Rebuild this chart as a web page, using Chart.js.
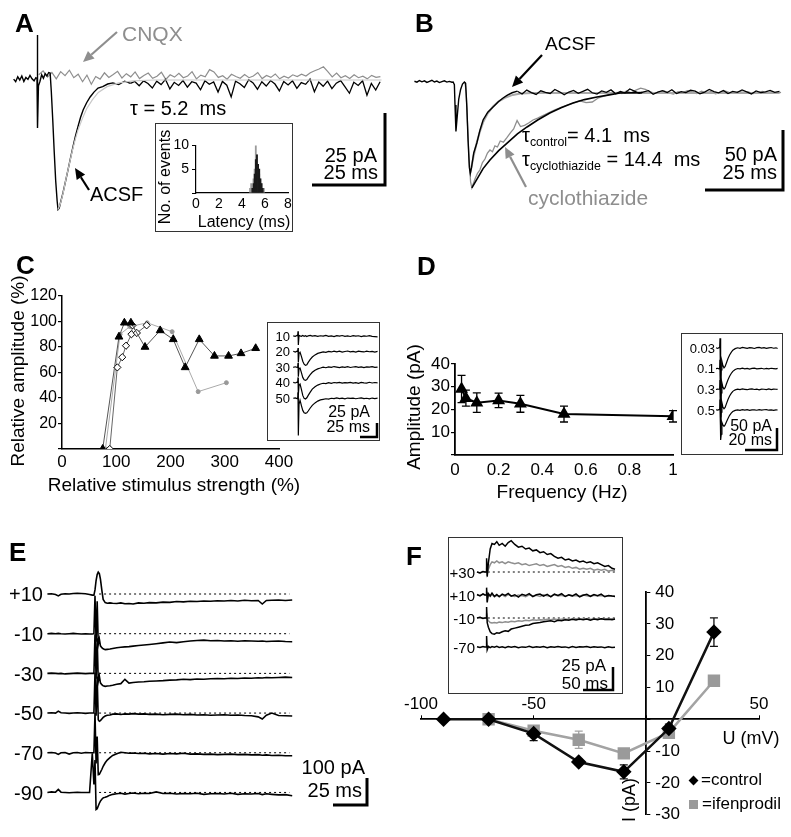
<!DOCTYPE html>
<html>
<head>
<meta charset="utf-8">
<script src="https://cdn.jsdelivr.net/npm/chart.js@4.4.1/dist/chart.umd.min.js"></script>
<style>
  body { margin:0; width:791px; height:837px; position:relative; overflow:hidden; background:#fff;
         font-family:"Liberation Sans", Arial, Helvetica, sans-serif; color:#000; }
  canvas { position:absolute; }
  .t { position:absolute; line-height:1; white-space:pre; }
  .box { position:absolute; border:1.3px solid #333; box-sizing:border-box; }
  svg { position:absolute; left:0; top:0; }
  sub { font-size:0.62em; vertical-align:-0.35em; line-height:0; }
</style>
</head>
<body>
<script>
// ---------- A: evoked EPSC (ms, pA) ----------
const aAcsfT = [-8, -7.3, -6.6, -5.9, -5.2, -4.5, -3.8, -3.1, -2.4, -1.7, -1.0, -0.4, 0, 0.1, 0.25, 0.5, 1.0, 1.6, 2.2, 2.8,
  3.4, 4.0, 4.5, 4.9, 5.4, 5.9, 6.4, 6.9, 7.2, 7.6, 8.2, 8.9, 9.7, 10.6, 11.4, 12.3, 13.1, 14.0, 14.9, 15.8,
  17.0, 18.2, 19.5, 20.9, 22.5, 24.2, 26.0, 28, 30, 32];
const aAcsfI = [0.3, -0.6, 1.1, 0.0, 1.4, -0.5, 0.9, 0.2, 1.6, 0.4, -0.3, 0.8, 0.5, 15.6, -16.7, -2, -0.5, 1.8, 0.6, 2.2,
  1.4, 2.6, 2.4, -4, -14, -25, -35, -42, -45, -44.5, -42, -39.2, -35.5, -31.3, -27.5, -23.3, -19.8, -16.3, -13.0, -10.4,
  -7.9, -5.9, -4.2, -2.8, -2.3, -1.4, -1.0, -1.6, -0.4, -1.2];
// baseline after the EPSC, sampled every 1.5 ms from 32 ms
const aAcsfTail = [-1.2, -0.5, -2.0, -0.3, -1.2, -2.8, -0.4, -1.6, 0.2, -3.1, -0.8, -1.9, -0.2, -2.5, -0.6, -1.1, -3.4, -0.3, -1.5, -0.7,
  -4.2, -0.5, -1.8, -5.9, -0.4, -1.3, -2.6, 0.1, -1.0, -3.2, -0.6, -2.1, -0.2, -1.4, -3.8, -0.5, -1.7, -0.3, -2.9, -0.9,
  -1.5, 0.3, -4.1, -0.7, -2.2, -0.4, -3.0, -1.1, -0.2, -2.4, -4.6, -0.8, -1.9, -0.3, -5.3, -1.2, -3.5, -0.6];
// CNQX, sampled every 1.5 ms from 0.6 ms
const aCnqx = [1.8, 3.2, 1.0, 2.6, 0.4, 2.9, 1.5, 3.4, 0.8, 2.0, -0.6, 1.7, -1.5, 1.2, 0.3, 2.5, 0.9, 1.9, 3.0, 0.7,
  2.2, 1.1, 2.8, 0.5, 1.6, 2.4, 0.6, 1.3, 2.7, 0.2, 1.8, 1.0, 2.3, 0.8, 1.4, 2.9, 0.4, 1.7, 1.1, 3.6,
  2.8, 0.9, 1.5, 0.3, 2.0, 1.2, 0.6, 1.9, 0.8, 1.4, 2.6, 0.5, 1.6, 0.9, 2.1, 0.4, 1.3, 0.7, 1.8, 1.2,
  2.0, 1.4, 2.5, 3.2, 3.8, 4.6, 2.9, 1.1, 2.4, 0.8, 1.5, 0.5, 1.8, 0.8, 1.3, 0.4, 1.6, 0.9, 1.2];
const aFitT = [7.2, 8, 9, 10, 11, 12, 13, 14, 15.5, 17, 19, 21, 24, 28, 33, 40, 118];
const aFitI = [-45, -43, -39, -34, -29.5, -25, -21, -17.5, -13.5, -10, -6.8, -4.3, -2.3, -1, -0.3, 0, 0];
// latency histogram
const aLatBins = [4.7, 4.8, 4.9, 5.0, 5.1, 5.2, 5.3, 5.4, 5.5, 5.6, 5.7, 5.8, 5.9];
const aLatGray = [1, 2, 1, 3, 5, 10, 8, 6, 4, 3, 2, 1, 1];
const aLatBlack = [0, 0, 1, 2, 4, 7, 8, 6, 5, 3, 2, 1, 0];
const aLatYTicks = [0, 5, 10];

// ---------- B: cyclothiazide ----------
const bAcsfT = [-13, -12.2, -11.4, -10.6, -9.8, -9.0, -8.2, -7.4, -6.6, -5.8, -5.0, -4.2, -3.4, -2.6, -1.8, -1.0,
  -0.6, -0.2, 0, 0.3, 0.7, 1.2, 1.8, 2.4, 3.0, 3.4, 3.8, 4.2, 4.6, 4.9, 5.3, 6.0, 7.0, 8.0, 9.0, 10.5, 12.2, 13.8, 15.4, 16.8, 18.3, 20];
const bAcsfI = [9.8, 9.0, 10.4, 9.3, 10.1, 8.8, 9.6, 10.6, 9.2, 9.9, 8.7, 9.5, 10.2, 9.1, 9.7, 9.0,
  9.2, 7, -10, -32, -20, -5, 3, 7.5, 9.2, 8, -12, -40, -62, -67, -62, -50, -41.7, -31, -22.5, -16, -11.7, -7.5, -4.2, -1.8, 0.2, 1.5];
// every 1.5 ms from 20 ms
const bAcsfTail = [1.5, -0.8, 2.4, 0.3, -1.2, 1.8, 0.6, -0.4, 2.9, 1.0, -1.5, 0.8, 2.2, -0.3, 1.4, 3.1, 0.2, -0.9, 1.7, 0.5,
  2.6, -0.6, 1.2, 0.1, 3.4, 1.6, -0.2, 0.9, 2.0, -1.1, 0.7, 1.9, 0.4, 2.7, -0.5, 1.1, 0.3, 2.3, 1.5, -0.7,
  0.8, 3.0, 1.2, 0.2, 2.1, -0.4, 1.3, 0.6, 2.5, 0.9, -0.8, 1.7, 0.4, 1.0, 2.2, 0.5, 1.4];
const bCycloT = [3.2, 3.6, 4.0, 4.5, 5.0, 5.4, 5.8, 6.5, 7.2, 8.0, 8.8, 9.6, 10.4, 11.2, 12.0, 12.8, 13.6, 14.5, 15.5, 16.7,
  17.8, 18.8, 19.9, 21, 22.3, 23.6, 25, 26.5, 28, 30, 32, 34, 36, 38, 40, 42, 44, 46, 48, 50, 52];
const bCycloI = [9, 0, -25, -55, -74, -79, -76, -71, -67, -64, -58, -55, -50, -47.5, -49, -44, -45, -40, -41, -37,
  -33, -30, -23, -28, -27, -25, -22.5, -21, -19, -16.5, -14, -12, -10, -8.5, -6.5, -8, -7.5, -4, -2.5, -1, 0.5];
// every 1.5 ms from 52 ms
const bCycloTail = [0.5, -0.5, 1.6, 0.2, 2.4, 4.0, 3.1, 1.2, -0.3, 0.9, 1.8, 0.1, -0.8, 1.1, 0.4, 2.0, 0.7, -0.4, 1.5, 0.2,
  1.0, -0.6, 0.6, 1.7, 0.3, -0.2, 1.2, 0.5, 0.9, -0.5, 0.4, 1.3, 0.0, 0.8, -0.3, 0.6];
const bFitCycloT = [5.4, 7, 9, 11.2, 14, 16.7, 20, 23.1, 26.5, 30.4, 34, 37.8, 41.5, 45.5, 49, 52.9, 60];
const bFitCycloI = [-79, -72, -63, -55.8, -48, -41.7, -34, -28.3, -22.5, -16.7, -12.3, -8.3, -5.5, -3.3, -1.8, 0, 0.3];
const bFitAcsfT = [4.9, 6, 7, 8, 9, 10.5, 12.2, 14, 16, 18.5, 21, 25, 104];
const bFitAcsfI = [-67, -52, -41, -32, -24.5, -17, -11.2, -7, -4, -1.6, -0.5, 0, 0];

// ---------- C: input-output ----------
const cStimTri = [75, 105, 115, 127, 153, 181, 205, 227, 253, 281, 307, 330, 357];
const cAmpTri = [0, 88, 99, 99, 80, 93, 86, 64, 86, 73, 73, 75, 79];
const cStimDia = [88, 102, 111, 118, 128, 130, 138, 156];
const cAmpDia = [0, 64, 72, 81, 90, 97, 91, 97];
const cStimDot = [80, 107, 125, 157, 203, 251, 303];
const cAmpDot = [0, 90, 96, 99, 92, 45, 52];
const cInsetT = [-7, -4, -1.5, -0.5, 0, 0.5, 1.5, 3, 5, 7, 9, 11, 13, 15, 18, 21, 25, 29, 33, 37,
  41, 45, 49, 53, 57, 61, 65, 69, 73, 77, 81, 85, 89, 93, 97, 101, 105, 109, 113, 117];
const c10 = [0.3, -0.5, 0.8, 0.2, 8, -15, 1.0, 0.2, -0.6, 0.8, -0.4, 0.5, -0.9, 0.3, 1.1, -0.2, 0.6, -0.7, 0.4, -0.3,
  0.9, -0.6, 0.2, -1.0, 0.5, -0.2, 0.8, -0.5, 0.1, -0.8, 0.6, -0.3, 0.4, -0.9, 0.2, -0.4, 0.7, -0.6, -1.1, -1.5];
const c20 = [0.5, -0.8, 0.6, 0, 6, -18, -3, -1, -8, -16, -21, -23, -22, -18, -13, -9, -5.5, -3, -1.8, -0.5,
  -1.2, 0.4, -0.6, 0.8, -0.3, 0.6, -0.9, 0.2, 1.0, -0.4, 0.5, -0.7, 0.9, 0.1, -0.6, 0.7, -0.2, 0.4, -0.8, 0.3];
const c30 = [-0.4, 0.7, -0.2, 0.3, 7, -16, -2, -1.5, -9, -17, -21, -22, -20.5, -17, -12.5, -8.5, -5, -2.8, -1.4, 0.2,
  -0.9, 0.6, -0.4, 1.1, 0.2, -0.7, 0.5, -0.2, 0.9, -0.5, 0.3, 1.0, -0.3, 0.6, -0.8, 0.4, 0.1, 0.8, -0.4, 0.2];
const c40 = [0.6, -0.3, 0.9, 0.4, 9, -20, -4, -2, -11, -21, -26, -27, -25, -21, -15.5, -10.5, -6.5, -3.8, -2, -0.8,
  -1.4, 0.3, -0.9, 0.5, -0.2, 0.7, -0.6, 0.4, -0.1, 0.8, -0.5, 0.2, -0.9, 0.6, 0.0, -0.4, 0.9, -0.3, 0.5, -0.2];
const c50 = [0.2, 0.8, -0.4, 0.5, 10, -62, -10, -3, -12, -20, -24, -25, -24, -21, -16, -11.5, -7.5, -4.5, -2.5, -1.5,
  -0.6, -1.2, 0.2, -0.5, 0.8, -0.3, 0.4, -0.8, 0.6, -0.1, 0.5, -0.6, 0.3, 0.9, -0.4, 0.2, -0.7, 0.6, -0.2, 0.4];
const cInsetLabels = ['10', '20', '30', '40', '50'];

// ---------- D: frequency dependence ----------
const dFreq = [0.03, 0.05, 0.1, 0.2, 0.3, 0.5, 1];
const dAmp = [29, 25, 23, 24, 22.5, 18, 17];
const dErr = [6, 3.5, 4.3, 3.2, 3.7, 3.5, 2.5];
const dInsetT = [-2.5, -1.5, -0.6, -0.2, 0, 0.4, 0.8, 1.2, 1.8, 2.5, 3.2, 4, 5, 6, 7, 8, 9.5, 11, 12.5, 14,
  15.5, 17, 18.5, 20, 21.5, 23, 24.5, 26, 27.5, 29, 30.5, 32, 33.5, 35, 36];
const d003 = [0.5, -1, 0.8, 2, 22, -110, -50, -30, -40, -45, -42, -34, -24, -16, -10, -5, -1.5, 0.5, -0.8, 1.2,
  0.4, -0.6, 1.0, 0.2, -1.1, 0.7, 1.3, -0.2, 0.6, -0.9, 0.3, 1.1, -0.5, 0.4, -1.2];
const d01 = [0.3, 0.9, -0.5, 1, 20, -110, -55, -32, -42, -46, -43, -35, -25, -17, -11, -6, -2, 0.4, -0.6, 1.0,
  -0.3, 0.8, -0.9, 0.5, 1.2, -0.4, 0.3, 0.9, -0.7, 0.6, -0.2, 1.0, 0.2, -0.5, 0.8];
const d03 = [-0.4, 0.6, 0.2, 1.5, 21, -90, -52, -30, -40, -44, -41, -33, -23, -15, -9, -4.5, -1, 0.6, -0.5, 0.9,
  0.1, -0.8, 0.6, 1.1, -0.3, 0.4, -0.9, 0.7, 0.2, -0.4, 1.0, -0.6, 0.5, 0.3, -0.2];
const d05 = [0.6, -0.3, 0.9, 1.8, 24, -68, -55, -28, -34, -37, -34, -27, -19, -12, -7, -3.5, -0.8, 0.5, -0.6, 1.1,
  -0.2, 0.7, -0.9, 0.4, 0.2, -0.5, 0.9, -0.3, 0.6, 1.0, -0.4, 0.3, -0.7, 0.5, 0.1];
const dInsetLabels = ['0.03', '0.1', '0.3', '0.5'];

// ---------- E: holding potential series ----------
const eT = [-35, -32, -29, -27, -25, -22, -19, -16, -13, -10, -7, -4, -2, -0.8, 0, 0.8, 1.6, 2.4, 3.2, 4,
  5, 6, 7.5, 9, 11, 13, 16, 19, 22, 25, 28, 32, 36, 40, 45, 50, 55, 60, 65, 70,
  75, 80, 85, 90, 95, 100, 105, 110, 115, 120, 123, 126, 130, 135, 140, 145];
const eP10 = [0, 1, -2, -7, -1, 1, 0, 2, 3, 2, 1, -2, -4, -4, 15, 50, 72, 81, 76, 55,
  15, -20, -32, -34, -33, -34, -35, -33, -36, -35, -37, -33, -34, -32, -33, -30, -31, -28, -29, -27,
  -28, -26, -27, -25, -26, -24, -26, -23, -25, -24, -37, -24, -23, -22, -24, -22];
const eM10 = [0, 1, 0, 1, 0, -1, 0, 1, 0, -1, 0, -1, -1, 0, 140, -30, 120, -40, -20, -45,
  -52, -56, -59, -58, -57, -55, -52, -50, -49, -48, -46, -44, -42, -40, -37, -34, -31, -33, -30, -27,
  -25, -24, -26, -25, -27, -26, -28, -26, -27, -28, -27, -29, -28, -27, -29, -30];
const eM30 = [0, 1, 0, -1, 0, -2, -1, 0, 1, 0, -1, 0, 0, 0, 145, -20, 130, -30, -10, -35,
  -42, -46, -48, -47, -46, -44, -40, -38, -22, -36, -34, -32, -31, -29, -28, -27, -25, -24, -22, -23,
  -21, -22, -20, -19, -20, -18, -19, -17, -18, -16, -17, -15, -16, -15, -14, -15];
const eM50 = [0, 1, 0, 7, 1, 0, -1, 0, 1, 0, -1, 0, 0, 0, 150, -10, 135, -25, -30, -28,
  -22, -16, -11, -8, -7, -4, -3, -5, -3, -4, -2, -4, -3, -5, -4, -6, -5, -4, -6, -5,
  -7, -6, -8, -7, -6, -8, -7, -9, -10, -14, -22, -8, 0, -9, -10, -11];
const eM70 = [0, 1, -1, -6, 0, 1, -5, 0, 1, -2, 1, 0, 0, 0, 148, -40, 60, -81, -80, -72,
  -62, -50, -37, -27, -18, -10, -4, 2, 0, -2, -1, -3, -2, -4, -3, -5, -3, -4, -2, -5,
  -4, -6, -5, -7, -6, -5, -7, -6, -8, -7, -9, -8, -10, -9, -11, -11];
const eM90 = [0, 2, 1, 11, 1, 0, -1, 0, 1, 0, 0, 0, 145, 30, 120, -63, -60, -50, -40, -32,
  -25, -20, -18, -15, -10, -7, -5, -3, -6, -4, -2, -5, -3, -4, 2, -4, -3, -6, -4, -5,
  -3, -7, -5, -4, -6, -3, -7, -5, -6, -4, -8, -5, -7, -9, -8, -12];
const eDotT = [3, 143];
const eDot = [0, 0];
const eLabels = ['+10', '-10', '-30', '-50', '-70', '-90'];

// ---------- F: I-V relation ----------
const fVolt = [-90, -70, -50, -30, -10, 10, 30];
const fControl = [0, 0, -4.5, -13.4, -16.5, -2.9, 27.4];
const fControlErr = [null, null, 2.2, 0.8, 2.2, 1.4, 4.5];
const fIfenVolt = [-70, -50, -30, -10, 10, 30];
const fIfen = [0, -3.6, -6.4, -10.7, -4.2, 12.1];
const fIfenErr = [null, 1.6, 2.7, 1.0, 1.5, null];
const fInsetT = [-15, -10, -5, -2, 0, 1, 2, 4, 7, 10, 14, 18, 22, 27, 32, 37, 42, 48, 54, 60,
  66, 72, 78, 84, 90, 96, 102, 108, 114, 120, 126, 132, 138, 144, 150, 156, 162, 168, 174, 180,
  186, 192, 198, 204, 210, 215];
const f30Black = [0, -1, 0.5, 0, 0, 15, -5, 10, 25, 31, 30, 33, 29, 31, 28, 32, 34, 30, 27, 28,
  25, 26, 23, 24, 21, 22, 19, 20, 17, 15, 16, 13, 14, 12, 13, 11, 12, 10, 11, 9, 10, 8, 6, 7, 4, 3];
const f30Gray = [0, -1, 0.5, 0, 0, 5, -2, 3, 8, 11, 10, 12, 10, 11, 9, 11, 10, 9, 10, 8,
  9, 7, 8, 9, 7, 8, 6, 7, 8, 6, 7, 5, 6, 4, 5, 3, 4, 3, 4, 2, 3, 2, 3, 1, 2, 1];
const f10Black = [0.5, -1, 1.2, 0, 0, 8, -8, 1.5, -1, 2, -1.5, 0.5, -2, 1, -0.5, 1.8, -1.2, 0.3, -2.2, 0.8,
  -0.6, 1.5, -1.8, 0.2, 1.1, -1.3, 0.6, -2, 0.9, -0.4, 1.4, -1.6, 0.1, -0.9, 1.2, -2.1, -0.3, 0.7, -1.4, 0.4,
  -0.8, 1.0, -1.9, -0.5, -1.2, -1.5];
const f10Gray = [0, -0.5, 0.8, 0.3, 0, 4, -4, 0, -1.5, 0.5, -2, -0.5, -1.2, 0.2, -1.8, 0.6, -0.9, -1.5, 0.1, -0.7,
  -1.9, 0.3, -1.1, -0.4, -1.6, 0.2, -0.8, -1.3, 0.5, -1.0, -0.2, -1.7, 0.0, -1.2, -0.6, -1.4, 0.1, -0.9, -1.6, -0.3,
  -1.1, -0.5, -1.3, -0.8, -1.0, -1.2];
const fm10Black = [0, 0.8, -0.5, 0, 0, 12, -5, -10, -15, -17, -17.5, -16, -16.5, -15, -14, -14.5, -12, -11, -10, -9,
  -8, -7.5, -6, -5.5, -5, -4, -3.5, -3, -4, -2.5, -3, -2, -2.5, -1.5, -2.2, -1.0, -2.0, -1.2, -2.4, -1.1,
  -1.8, -0.9, -1.6, -1.3, -1.9, -1.0];
const fm10Gray = [0, 0.5, -0.3, 0, 0, 5, -1, -3, -5, -5.5, -5, -5.5, -4.5, -5, -4, -4.5, -3.5, -4, -3, -3.5,
  -2.5, -3, -2, -2.5, -1.8, -2.2, -1.5, -2, -1.2, -1.8, -1.4, -1.0, -1.6, -1.2, -0.9, -1.5, -1.1, -0.8, -1.3, -1.0,
  -0.7, -1.2, -0.9, -1.1, -0.8, -1.0];
const fm70 = [0.3, -0.6, 0.5, 0, 0, 12, -3, 0.5, -0.8, 0.4, -0.3, 0.7, -0.5, 0.2, -0.9, 0.4, -0.2, 0.6, -0.7, 0.1,
  -0.4, 0.8, -0.6, 0.3, -0.2, 0.5, -0.8, 0.2, -0.4, 0.6, -0.3, 0.1, -0.7, 0.4, -0.5, 0.2, -0.1, 0.6, -0.6, 0.3,
  -0.4, 0.1, -0.8, 0.2, -0.5, -0.3];
const fDotT = [3, 215];
const fDot = [0, 0];
const fInsetLabels = ['+30', '+10', '-10', '-70'];

// ---------- helpers ----------
const FONT = '"Liberation Sans", Arial, Helvetica, sans-serif';
Chart.defaults.font.family = FONT;
Chart.defaults.color = '#000';
Chart.defaults.animation = false;
Chart.defaults.responsive = false;
Chart.defaults.plugins.legend.display = false;
Chart.defaults.plugins.tooltip.enabled = false;

function addCanvas(left, top, width, height) {
  const c = document.createElement('canvas');
  c.width = width; c.height = height;
  c.style.left = left + 'px'; c.style.top = top + 'px';
  document.body.appendChild(c);
  return c;
}
function xy(xs, ys, shift) {
  const out = [];
  xs.forEach((x, i) => { if (ys[i] != null) out.push({x: x, y: ys[i] + (shift || 0)}); });
  return out;
}
function even(start, step, n) { return Array.from({length: n}, (_, i) => start + i * step); }
function line(data, color, width, extra) {
  return Object.assign({data: data, borderColor: color, borderWidth: width, pointRadius: 0, tension: 0, fill: false}, extra || {});
}
// frame: page pixel of the data origin and pixels per unit
function traceChart(box, frame, datasets) {
  const c = addCanvas(box.left, box.top, box.width, box.height);
  new Chart(c, {
    type: 'line',
    data: {datasets: datasets},
    options: {
      devicePixelRatio: 1,
      layout: {padding: 0},
      scales: {
        x: {type: 'linear', display: false,
            min: (box.left - frame.x0) / frame.px, max: (box.left + box.width - frame.x0) / frame.px},
        y: {type: 'linear', display: false,
            min: (frame.y0 - box.top - box.height) / frame.py, max: (frame.y0 - box.top) / frame.py}
      }
    }
  });
}
const errorBars = {
  id: 'errorBars',
  beforeDatasetsDraw(chart) {
    const ctx = chart.ctx, ys = chart.scales.y;
    chart.data.datasets.forEach((ds, i) => {
      if (!ds.errors) return;
      const pts = chart.getDatasetMeta(i).data;
      ctx.save();
      ctx.strokeStyle = ds.errorColor || ds.borderColor;
      ctx.lineWidth = 1.3;
      pts.forEach((p, j) => {
        const e = ds.errors[j];
        if (e == null) return;
        const v = ds.data[j].y;
        const hi = ys.getPixelForValue(v + e), lo = ys.getPixelForValue(v - e);
        ctx.beginPath();
        ctx.moveTo(p.x, hi); ctx.lineTo(p.x, lo);
        ctx.moveTo(p.x - 4, hi); ctx.lineTo(p.x + 4, hi);
        ctx.moveTo(p.x - 4, lo); ctx.lineTo(p.x + 4, lo);
        ctx.stroke();
      });
      ctx.restore();
    });
  }
};
// move the axes of F so they cross at the origin
const crossAxes = {
  id: 'crossAxes',
  afterLayout(chart) {
    const xs = chart.scales.x, ys = chart.scales.y;
    const x0 = xs.getPixelForValue(0), y0 = ys.getPixelForValue(0);
    ys.left = x0; ys.right = x0 + 50;
    xs.bottom = y0; xs.top = y0 - 40;
  }
};
const GRAY = '#8e8e8e';
const oneDecimal = v => String(Math.round(v * 10) / 10);

// ---------- A traces ----------
traceChart({left: 12, top: 25, width: 373, height: 200}, {x0: 37, y0: 80, px: 2.92, py: 2.88}, [
  line(xy(aFitT, aFitI), '#c8c8c8', 1.2),
  line(xy(aAcsfT, aAcsfI), '#000', 1.4),
  line(xy(even(32, 1.5, aAcsfTail.length), aAcsfTail), '#000', 1.3),
  line(xy(even(0.6, 1.5, aCnqx.length), aCnqx), GRAY, 1.2)
]);

// A inset histogram
new Chart(addCanvas(150, 134, 145, 85), {
  type: 'bar',
  data: {datasets: [
    {data: xy(aLatBins, aLatBlack), backgroundColor: '#1a1a1a', barPercentage: 1, categoryPercentage: 1, grouped: false},
    {data: xy(aLatBins, aLatGray), backgroundColor: '#9a9a9a', barPercentage: 1, categoryPercentage: 1, grouped: false}
  ]},
  options: {
    devicePixelRatio: 1,
    layout: {padding: {left: 0, top: 10, right: 7, bottom: 4}},
    scales: {
      x: {type: 'linear', min: 0, max: 8, offset: false, afterFit: s => { s.height = 22; },
          ticks: {stepSize: 2, padding: 3, autoSkip: false, maxRotation: 0, font: {size: 14}},
          grid: {display: false, drawTicks: false}, border: {color: '#000', width: 1.2}},
      y: {min: 0, max: 10, afterFit: s => { s.width = 46; },
          afterBuildTicks: s => { s.ticks = aLatYTicks.map(v => ({value: v})); },
          ticks: {padding: 3, autoSkip: false, font: {size: 14}, callback: v => v === 0 ? '' : v},
          grid: {drawOnChartArea: false, color: '#000', tickLength: 4}, border: {color: '#000', width: 1.2}}
    }
  }
});

// ---------- B traces ----------
traceChart({left: 412, top: 30, width: 373, height: 175}, {x0: 455, y0: 93, px: 3.12, py: 1.2}, [
  line(xy(bFitCycloT, bFitCycloI), '#000', 1.6),
  line(xy(bAcsfT, bAcsfI), '#000', 1.4),
  line(xy(even(20, 1.5, bAcsfTail.length), bAcsfTail), '#000', 1.3),
  line(xy(bFitAcsfT, bFitAcsfI), '#a8a8a8', 2),
  line(xy(bCycloT, bCycloI), GRAY, 1.3),
  line(xy(even(52, 1.5, bCycloTail.length), bCycloTail), GRAY, 1.3)
]);

// ---------- C ----------
new Chart(addCanvas(0, 284, 310, 200), {
  type: 'line',
  data: {datasets: [
    {data: xy(cStimTri, cAmpTri), borderColor: '#555', borderWidth: 1, tension: 0, pointStyle: 'triangle',
     pointRadius: 4.5, pointBackgroundColor: '#000', pointBorderColor: '#000'},
    {data: xy(cStimDia, cAmpDia), borderColor: '#666', borderWidth: 1, tension: 0, pointStyle: 'rectRot',
     pointRadius: 3.6, pointBackgroundColor: '#fff', pointBorderColor: '#000', pointBorderWidth: 1},
    {data: xy(cStimDot, cAmpDot), borderColor: '#aaa', borderWidth: 1, tension: 0, pointStyle: 'circle',
     pointRadius: 2, pointBackgroundColor: '#999', pointBorderColor: '#999'}
  ]},
  options: {
    devicePixelRatio: 1,
    layout: {padding: {left: 18, top: 12, right: 31, bottom: 5}},
    scales: {
      x: {type: 'linear', min: 0, max: 400, afterFit: s => { s.height = 30; },
          ticks: {stepSize: 100, padding: 3, autoSkip: false, maxRotation: 0, font: {size: 17}},
          grid: {display: false, drawTicks: false}, border: {color: '#000', width: 1.5}},
      y: {min: 0, max: 120, afterFit: s => { s.width = 44; },
          ticks: {stepSize: 20, padding: 1, autoSkip: false, font: {size: 16}, callback: v => v === 0 ? '' : v},
          grid: {drawOnChartArea: false, color: '#000', tickLength: 4, lineWidth: 1.2}, border: {color: '#000', width: 1.5}}
    }
  }
});
// C inset traces
const cGap = 26;
traceChart({left: 291, top: 324, width: 88, height: 115}, {x0: 298, y0: 336, px: 0.68, py: 0.6},
  [c10, c20, c30, c40, c50].map((v, i) => line(xy(cInsetT, v, -i * cGap), '#000', 1.2)));

// ---------- D ----------
new Chart(addCanvas(400, 350, 290, 135), {
  type: 'line',
  data: {datasets: [
    {data: xy(dFreq, dAmp), errors: dErr, borderColor: '#000', borderWidth: 2, tension: 0, pointStyle: 'triangle',
     pointRadius: 5.5, pointBackgroundColor: '#000', pointBorderColor: '#000'}
  ]},
  options: {
    devicePixelRatio: 1,
    layout: {padding: {left: 15, top: 14, right: 17, bottom: 4}},
    scales: {
      x: {type: 'linear', min: 0, max: 1, afterFit: s => { s.height = 26; },
          ticks: {stepSize: 0.2, padding: 5, autoSkip: false, maxRotation: 0, font: {size: 17}, callback: oneDecimal},
          grid: {display: false, drawTicks: false}, border: {color: '#000', width: 1.8}},
      y: {min: 0, max: 40, afterFit: s => { s.width = 40; },
          ticks: {stepSize: 10, padding: 1, autoSkip: false, font: {size: 17}, callback: v => v === 0 ? '' : v},
          grid: {drawOnChartArea: false, color: '#000', tickLength: 4, lineWidth: 1.2}, border: {color: '#000', width: 1.8}}
    }
  },
  plugins: [errorBars]
});
// D inset traces
const dGap = 47;
traceChart({left: 714, top: 335, width: 68, height: 118}, {x0: 720, y0: 348, px: 1.6, py: 0.44},
  [d003, d01, d03, d05].map((v, i) => line(xy(dInsetT, v, -i * dGap), '#000', 1.2)));

// ---------- E ----------
const eGap = 147;
const eSets = [];
[eP10, eM10, eM30, eM50, eM70, eM90].forEach((v, i) => {
  eSets.push(line(xy(eT, v, -i * eGap), '#000', 1.6));
  eSets.push(line(xy(eDotT, eDot, -i * eGap), '#000', 1, {borderDash: [2, 3]}));
});
traceChart({left: 45, top: 560, width: 255, height: 265}, {x0: 95, y0: 594, px: 1.36, py: 0.27}, eSets);

// ---------- F ----------
new Chart(addCanvas(396, 560, 391, 270), {
  type: 'line',
  data: {datasets: [
    {data: xy(fVolt, fControl), errors: fControlErr, borderColor: '#111', borderWidth: 2.5, tension: 0,
     pointStyle: 'rectRot', pointRadius: 6, pointBackgroundColor: '#000', pointBorderColor: '#000'},
    {data: xy(fIfenVolt, fIfen), errors: fIfenErr, borderColor: '#a3a3a3', borderWidth: 2.5, tension: 0,
     pointStyle: 'rect', pointRadius: 7, pointBackgroundColor: '#9a9a9a', pointBorderColor: '#9a9a9a'}
  ]},
  options: {
    devicePixelRatio: 1,
    layout: {padding: {left: 25, top: 8, right: 8, bottom: 10}},
    scales: {
      x: {type: 'linear', position: 'top', min: -100, max: 50, afterFit: s => { s.height = 24; },
          ticks: {stepSize: 50, padding: 1, autoSkip: false, maxRotation: 0, font: {size: 17}, callback: v => v === 0 ? '' : v},
          grid: {drawOnChartArea: false, color: '#000', tickLength: 4}, border: {color: '#000', width: 1.8}},
      y: {position: 'right', min: -30, max: 40, afterFit: s => { s.width = 20; },
          ticks: {stepSize: 10, padding: 5, autoSkip: false, font: {size: 17}, callback: v => v === 0 ? '' : v},
          grid: {drawOnChartArea: false, color: '#000', tickLength: 4}, border: {color: '#000', width: 1.8}}
    }
  },
  plugins: [crossAxes, errorBars]
});
// F inset traces
const fShift = [0, -25, -50, -81.5];
traceChart({left: 476, top: 538, width: 146, height: 155}, {x0: 486, y0: 572, px: 0.6, py: 0.92}, [
  line(xy(fInsetT, f30Black, fShift[0]), '#000', 1.5),
  line(xy(fInsetT, f30Gray, fShift[0]), GRAY, 1.5),
  line(xy(fDotT, fDot, fShift[0]), '#000', 1, {borderDash: [2, 3]}),
  line(xy(fInsetT, f10Black, fShift[1]), '#000', 1.5),
  line(xy(fInsetT, f10Gray, fShift[1]), GRAY, 1.5),
  line(xy(fInsetT, fm10Black, fShift[2]), '#000', 1.5),
  line(xy(fInsetT, fm10Gray, fShift[2]), GRAY, 1.5),
  line(xy(fDotT, fDot, fShift[2]), '#000', 1, {borderDash: [2, 3]}),
  line(xy(fInsetT, fm70, fShift[3]), '#000', 1.5)
]);

// ---------- frames, scale bars, arrows ----------
function frame(l, t, w, h) {
  const d = document.createElement('div');
  d.className = 'box';
  Object.assign(d.style, {left: l + 'px', top: t + 'px', width: w + 'px', height: h + 'px'});
  document.body.appendChild(d);
}
frame(155, 123, 138, 109);
frame(267, 322, 113, 119);
frame(681, 333, 102, 122);
frame(448, 537, 175, 157);

const NS = 'http://www.w3.org/2000/svg';
const svg = document.createElementNS(NS, 'svg');
svg.setAttribute('width', 791); svg.setAttribute('height', 837);
document.body.appendChild(svg);
function path(d, color, w) {
  const p = document.createElementNS(NS, 'path');
  p.setAttribute('d', d); p.setAttribute('stroke', color); p.setAttribute('stroke-width', w); p.setAttribute('fill', 'none');
  svg.appendChild(p);
}
function arrow(x1, y1, x2, y2, color) {
  const a = Math.atan2(y2 - y1, x2 - x1), L = 11, W = 5;
  const bx = x2 - L * Math.cos(a), by = y2 - L * Math.sin(a);
  path(`M${x1},${y1} L${bx},${by}`, color, 2.2);
  const poly = document.createElementNS(NS, 'polygon');
  poly.setAttribute('points', `${x2},${y2} ${bx - W * Math.sin(a)},${by + W * Math.cos(a)} ${bx + W * Math.sin(a)},${by - W * Math.cos(a)}`);
  poly.setAttribute('fill', color);
  svg.appendChild(poly);
}
path('M312,185 H385 V113', '#000', 3);
path('M705,190 H783 V130', '#000', 3);
path('M333,805 H367 V778', '#000', 3);
path('M360,437 H377 V423', '#000', 2.5);
path('M745,450 H777 V428', '#000', 2.5);
path('M583,690 H613 V667', '#000', 2.5);
arrow(117, 32, 83, 62, GRAY);
arrow(89, 190, 75, 168, '#000');
arrow(542, 55, 512, 87, '#000');
arrow(526, 187, 505, 147, GRAY);

// ---------- text ----------
function put(html, x, y, size, o) {
  o = o || {};
  const d = document.createElement('div');
  d.className = 't';
  d.innerHTML = html;
  d.style.fontSize = size + 'px';
  d.style.left = x + 'px';
  d.style.top = (y - 0.4885 * size) + 'px';
  const shift = o.align === 'right' ? '-100%' : o.align === 'center' ? '-50%' : '0';
  d.style.transform = `translateX(${shift})`;
  if (o.bold) d.style.fontWeight = 'bold';
  if (o.color) d.style.color = o.color;
  document.body.appendChild(d);
}
function rot(text, cx, cy, size) {
  const d = document.createElement('div');
  d.className = 't';
  d.textContent = text;
  d.style.fontSize = size + 'px';
  d.style.left = cx + 'px';
  d.style.top = cy + 'px';
  d.style.transform = 'translate(-50%, -50%) rotate(-90deg)';
  document.body.appendChild(d);
}
const R = {align: 'right'}, C = {align: 'center'};
// panel letters
put('A', 15, 22.5, 26, {bold: true});
put('B', 415, 22.5, 26, {bold: true});
put('C', 16, 265, 26, {bold: true});
put('D', 417, 266, 26, {bold: true});
put('E', 9, 552, 26, {bold: true});
put('F', 406, 556, 26, {bold: true});
// A
put('CNQX', 122, 33, 21, {color: GRAY});
put('ACSF', 90, 194, 20);
put('τ = 5.2  ms', 130, 108, 20);
put('25 pA', 377, 155, 20, R);
put('25 ms', 378, 172, 20, R);
rot('No. of events', 165, 177, 16);
put('Latency (ms)', 244, 222, 16, C);
// B
put('ACSF', 545, 43, 19);
put('τ<sub>control</sub>= 4.1  ms', 522, 135, 20);
put('τ<sub>cyclothiazide</sub> = 14.4  ms', 522, 159, 20);
put('cyclothiazide', 528, 197, 21, {color: GRAY});
put('50 pA', 777, 154, 20, R);
put('25 ms', 777, 172, 20, R);
// C
rot('Relative amplitude (%)', 17, 371, 19);
put('Relative stimulus strength (%)', 174, 484, 19, C);
cInsetLabels.forEach((s, i) => put(s, 290, 336 + i * cGap * 0.6, 13, R));
put('25 pA', 370, 412, 16, R);
put('25 ms', 370, 427, 16, R);
// D
rot('Amplitude (pA)', 413, 407, 19);
put('Frequency (Hz)', 562, 491, 19, C);
dInsetLabels.forEach((s, i) => put(s, 715, 348 + i * dGap * 0.44, 13, R));
put('50 pA', 772, 426, 16, R);
put('20 ms', 772, 440, 16, R);
// E
eLabels.forEach((s, i) => put(s, 43, 594 + i * eGap * 0.27, 20, R));
put('100 pA', 365, 767, 20, R);
put('25 ms', 362, 790, 20, R);
// F
put('U (mV)', 751, 738, 18, C);
rot('I (pA)', 629, 800, 18);
put('<span style="display:inline-block;width:7px;height:7px;background:#000;transform:rotate(45deg);margin:0 4px 1px 2px"></span>=control', 688, 779, 17);
put('<span style="display:inline-block;width:9px;height:9px;background:#9a9a9a;margin:0 4px 0 1px"></span>=ifenprodil', 688, 803, 17);
fInsetLabels.forEach((s, i) => put(s, 475, 572 - fShift[i] * 0.92, 15, R));
put('25 pA', 606, 665, 17, R);
put('50 ms', 608, 683, 17, R);
</script>
</body>
</html>
